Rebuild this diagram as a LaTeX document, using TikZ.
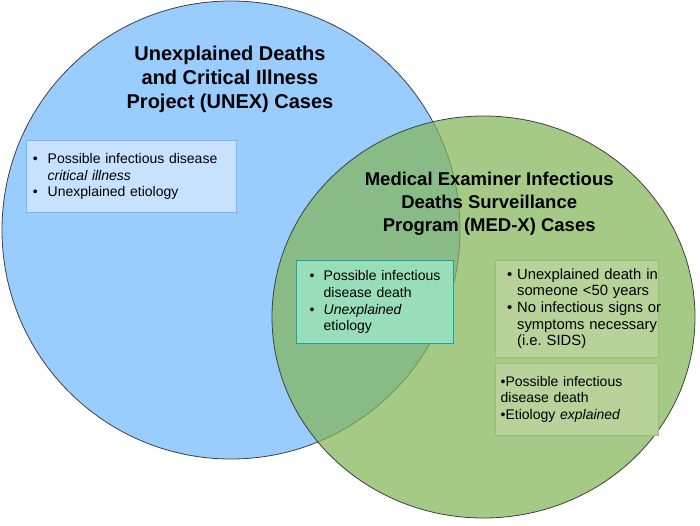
\documentclass[tikz,border=0pt]{standalone}
\usepackage{fontspec}
\setmainfont{Liberation Sans}
\usepackage{tikz}
\usetikzlibrary{positioning}
\definecolor{unexfill}{RGB}{153,204,255}
\definecolor{medxfill}{RGB}{130,181,87}
\definecolor{rimgray}{RGB}{64,64,64}
\definecolor{unexboxfill}{RGB}{198,226,255}
\definecolor{unexboxedge}{RGB}{125,180,240}
\definecolor{bothboxfill}{RGB}{153,222,187}
\definecolor{bothboxedge}{RGB}{30,160,155}
\definecolor{medxboxfill}{RGB}{183,211,153}
\definecolor{medxboxedge}{RGB}{155,188,120}
\newcommand{\bitem}[2]{\mbox{\makebox[#1][l]{\textbullet}#2}}
\newcommand{\bcont}[2]{\mbox{\hspace*{#1}#2}}

\begin{document}
\begin{tikzpicture}[x=1pt,y=-1pt,
  infobox/.style={draw,line width=0.8pt,anchor=north west,align=left,inner ysep=0pt,
    font=\fontsize{14}{16.7}\selectfont},
  casetitle/.style={align=center,anchor=base}]
\useasboundingbox (0,0) rectangle (700,525);
% the two case sets
\draw[rimgray,line width=0.8pt,fill=unexfill] (231,230) circle (229);
\draw[rimgray,line width=0.8pt,fill=medxfill,fill opacity=0.72] (483.5,317) ellipse [x radius=211.5,y radius=201];
% titles
\node[casetitle,font=\bfseries\fontsize{20}{24}\selectfont] (unextitle) at (230,108.3)
  {Unexplained Deaths\\and Critical Illness\\Project (UNEX) Cases};
\node[casetitle,font=\bfseries\fontsize{18.5}{23.3}\selectfont] (medxtitle) at (489.2,231.7)
  {Medical Examiner Infectious\\Deaths Surveillance\\Program (MED-X) Cases};
% criteria boxes
\node[infobox,fill=unexboxfill,draw=unexboxedge,inner xsep=6.5pt,text width=197pt,minimum height=72pt] (unexbox) at (26,140)
  {\bitem{14.8pt}{Possible infectious disease}\\
   \bcont{14.8pt}{\textit{critical illness}}\\
   \bitem{14.8pt}{Unexplained etiology}};
\node[infobox,fill=bothboxfill,draw=bothboxedge,inner xsep=13.2pt,text width=130.3pt,minimum height=83.3pt] (bothbox) at (296,260)
  {\bitem{14.1pt}{Possible infectious}\\
   \bcont{14.1pt}{disease death}\\
   \bitem{14.1pt}{\textit{Unexplained}}\\
   \bcont{14.1pt}{etiology}};
\node[infobox,fill=medxboxfill,draw=medxboxedge,inner xsep=11.8pt,text width=139.1pt,minimum height=96.7pt,
  font=\fontsize{14.8}{16.7}\selectfont] (medxbox) at (495,260)
  {\bitem{9.9pt}{Unexplained death in}\\
   \bcont{9.9pt}{someone <50 years}\\
   \bitem{9.9pt}{No infectious signs or}\\
   \bcont{9.9pt}{symptoms necessary}\\
   \bcont{9.9pt}{(i.e.\ SIDS)}};
\node[infobox,fill=medxboxfill,draw=medxboxedge,inner xsep=5.3pt,text width=152.1pt,minimum height=72.3pt] (explbox) at (495,362.7)
  {\mbox{\textbullet Possible infectious}\\
   \mbox{disease death}\\
   \mbox{\textbullet Etiology \textit{explained}}};
\end{tikzpicture}
\end{document}
